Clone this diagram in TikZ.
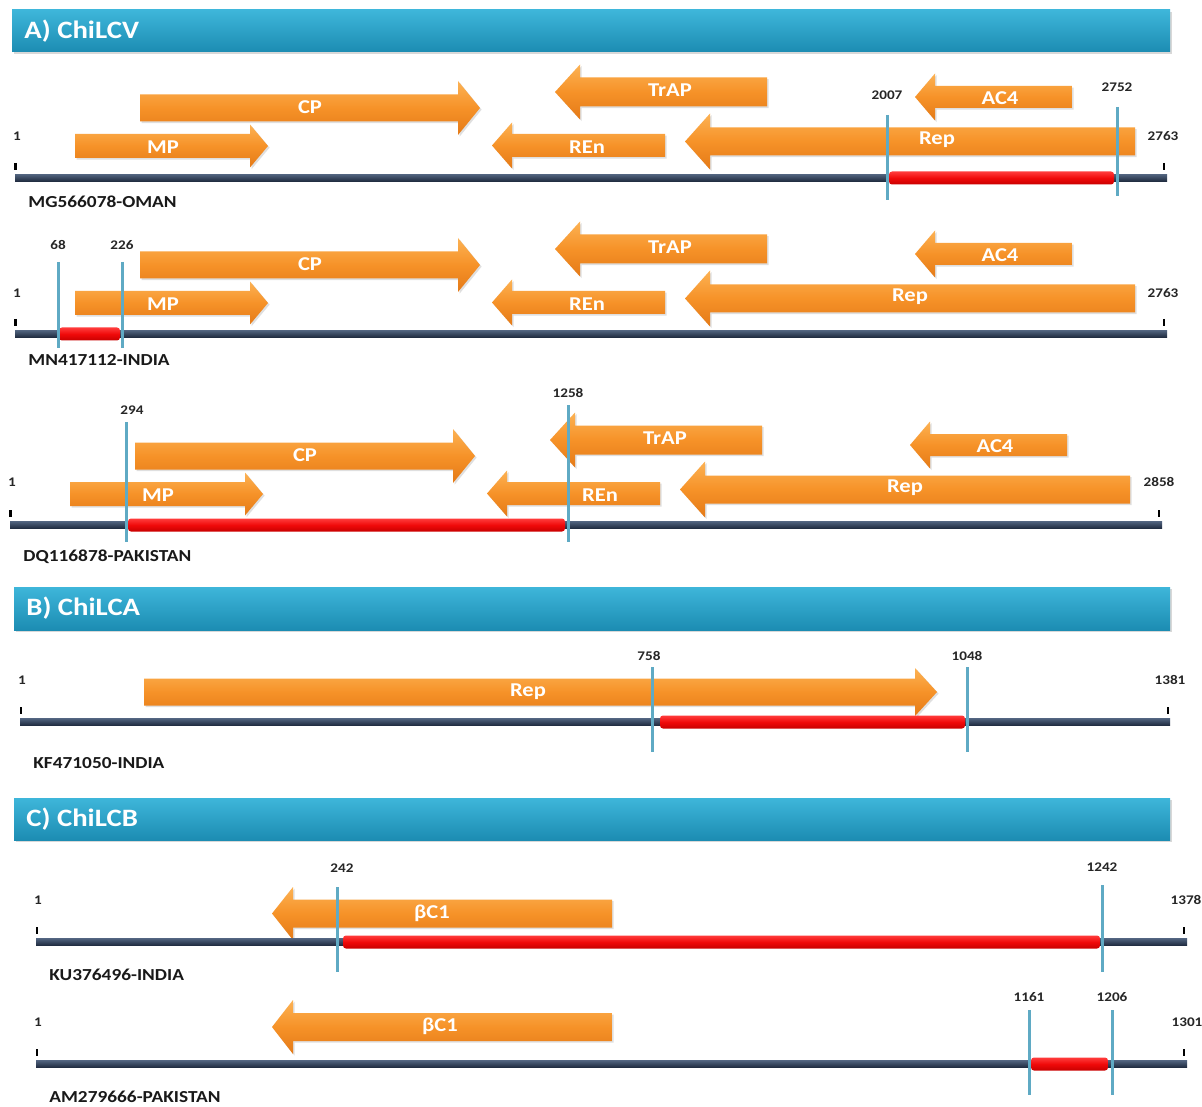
\documentclass[tikz,border=0pt]{standalone}
\usepackage{fontspec}
\setmainfont{Carlito}[FakeStretch=1.15]
\usetikzlibrary{shadows}
\definecolor{geneTop}{RGB}{252,178,84}
\definecolor{geneMid}{RGB}{246,146,40}
\definecolor{geneBot}{RGB}{228,122,24}
\definecolor{hdrTop}{RGB}{62,182,218}
\definecolor{hdrBot}{RGB}{28,140,178}
\definecolor{barTop}{RGB}{80,98,125}
\definecolor{barBot}{RGB}{30,42,62}
\definecolor{redTop}{RGB}{255,60,60}
\definecolor{redMid}{RGB}{240,10,10}
\definecolor{redBot}{RGB}{200,0,0}
\definecolor{markBlue}{RGB}{95,170,196}
\tikzset{
  gene/.style={top color=geneTop, bottom color=geneBot, middle color=geneMid,
    drop shadow={opacity=0.25, shadow xshift=0.8pt, shadow yshift=-0.8pt}},
  glabel/.style={text=white, font=\bfseries\fontsize{9.8}{11}\selectfont, inner sep=0pt},
  num/.style={text=black!85, font=\bfseries\fontsize{6.6}{8}\selectfont, inner sep=0pt},
  acc/.style={text=black!90, font=\bfseries\fontsize{8.4}{10}\selectfont, anchor=west, inner sep=0pt},
  marker/.style={draw=markBlue, line width=1.5pt},
  hdr/.style={top color=hdrTop, bottom color=hdrBot,
    drop shadow={opacity=0.3, shadow xshift=1pt, shadow yshift=-1pt}},
  htext/.style={text=white, font=\bfseries\fontsize{12.5}{14}\selectfont, anchor=west, inner sep=0pt},
  tickmark/.style={draw=black, line width=1.1pt},
  genomebar/.style={top color=barTop, bottom color=barBot},
  redseg/.style={top color=redTop, bottom color=redBot, middle color=redMid, rounded corners=1.5pt},
}
% #1 tail x, #2 head-base x, #3 tip x, #4 centre y, #5 body half-height, #6 head half-height
\newcommand\genearrow[6]{%
  \path[gene] (#1,#4-#5) -- (#2,#4-#5) -- (#2,#4-#6) -- (#3,#4) -- (#2,#4+#6)
    -- (#2,#4+#5) -- (#1,#4+#5) -- cycle;}
% #1 x start, #2 x end, #3 centre y
\newcommand\genomebar[3]{%
  \path[genomebar] (#1,#3-3.5) rectangle (#2,#3+3.5);}
\newcommand\redbar[3]{%
  \path[redseg] (#1,#3-6.5) rectangle (#2,#3+6.5);}
\begin{document}
\begin{tikzpicture}[x=0.5pt,y=-0.5pt]
\useasboundingbox (0,0) rectangle (1202,1106);
\fill[white] (0,0) rectangle (1202,1106);

% ---------------- Headers
\path[hdr] (12,10) rectangle (1170,52);
\node[htext] (hA) at (24,31) {A) ChiLCV};
\path[hdr] (14,587) rectangle (1170,630);
\node[htext] (hB) at (26,608) {B) ChiLCA};
\path[hdr] (14,798) rectangle (1170,840);
\node[htext] (hC) at (26,819) {C) ChiLCB};

% ---------------- A1
\begin{scope}
\genearrow{140}{458}{480}{108}{13.5}{27}
\genearrow{75}{250}{268}{146}{12}{21.5}
\genearrow{767}{580}{555}{92}{14.5}{27.5}
\genearrow{665}{512}{492}{145.5}{11.5}{23}
\genearrow{1135}{710}{685}{141.5}{14}{28}
\genearrow{1072}{935}{915}{97}{11}{23.5}
\node[glabel] (a1cp) at (310,107) {CP};
\node[glabel] (a1mp) at (163,147) {MP};
\node[glabel] (a1trap) at (670,90) {TrAP};
\node[glabel] (a1ren) at (587,147) {REn};
\node[glabel] (a1rep) at (937,140) {Rep};
\node[glabel] (a1ac4) at (1000,98) {AC4};
\genomebar{15}{1167}{178}
\redbar{889}{1114}{178}
\draw[tickmark] (15.5,163) -- (15.5,170);
\draw[tickmark] (1164,163) -- (1164,170);
\draw[marker] (887,115) -- (887,200);
\draw[marker] (1117,107) -- (1117,196);
\node[num] (a1s) at (17,136) {1};
\node[num] (a1e) at (1163,136) {2763};
\node[num] (a1m1) at (887,95) {2007};
\node[num] (a1m2) at (1117,87) {2752};
\node[acc] (a1id) at (28,202) {MG566078-OMAN};
\end{scope}

% ---------------- A2
\begin{scope}[shift={(0,157)}]
\genearrow{140}{458}{480}{108}{13.5}{27}
\genearrow{75}{250}{268}{146}{12}{21.5}
\genearrow{767}{580}{555}{92}{14.5}{27.5}
\genearrow{665}{512}{492}{145.5}{11.5}{23}
\genearrow{1135}{710}{685}{141.5}{14}{28}
\genearrow{1072}{935}{915}{97}{11}{23.5}
\node[glabel] (a2cp) at (310,107) {CP};
\node[glabel] (a2mp) at (163,147) {MP};
\node[glabel] (a2trap) at (670,90) {TrAP};
\node[glabel] (a2ren) at (587,147) {REn};
\node[glabel] (a2rep) at (910,140) {Rep};
\node[glabel] (a2ac4) at (1000,98) {AC4};
\genomebar{15}{1167}{177}
\redbar{59}{120}{177}
\draw[tickmark] (15.5,162) -- (15.5,169);
\draw[tickmark] (1164,162) -- (1164,169);
\draw[marker] (58,105) -- (58,191);
\draw[marker] (122,105) -- (122,191);
\node[num] (a2s) at (17,136) {1};
\node[num] (a2e) at (1163,136) {2763};
\node[num] (a2m1) at (58,88) {68};
\node[num] (a2m2) at (122,88) {226};
\node[acc] (a2id) at (28,203) {MN417112-INDIA};
\end{scope}

% ---------------- A3
\begin{scope}[shift={(-5,348)}]
\genearrow{140}{458}{480}{108}{13.5}{27}
\genearrow{75}{250}{268}{146}{12}{21.5}
\genearrow{767}{580}{555}{92}{14.5}{27.5}
\genearrow{665}{512}{492}{145.5}{11.5}{23}
\genearrow{1135}{710}{685}{141.5}{14}{28}
\genearrow{1072}{935}{915}{97}{11}{23.5}
\node[glabel] (a3cp) at (310,107) {CP};
\node[glabel] (a3mp) at (163,147) {MP};
\node[glabel] (a3trap) at (670,90) {TrAP};
\node[glabel] (a3ren) at (605,147) {REn};
\node[glabel] (a3rep) at (910,140) {Rep};
\node[glabel] (a3ac4) at (1000,98) {AC4};
\genomebar{15}{1167}{177}
\redbar{133}{570}{177}
\draw[tickmark] (15.5,162) -- (15.5,169);
\draw[tickmark] (1164,162) -- (1164,169);
\draw[marker] (131,74) -- (131,194);
\draw[marker] (573,57) -- (573,194);
\node[num] (a3s) at (17,134) {1};
\node[num] (a3e) at (1164,134) {2858};
\node[num] (a3m1) at (137,62) {294};
\node[num] (a3m2) at (573,45) {1258};
\node[acc] (a3id) at (28,209) {DQ116878-PAKISTAN};
\end{scope}

% ---------------- B
\genearrow{144}{915}{937}{692}{13.5}{24}
\node[glabel] (brep) at (528,692) {Rep};
\genomebar{20}{1170}{722}
\redbar{660}{965}{722}
\draw[tickmark] (21,707) -- (21,714);
\draw[tickmark] (1168,707) -- (1168,714);
\draw[marker] (652,667) -- (652,752);
\draw[marker] (967,667) -- (967,752);
\node[num] (bs) at (22,680) {1};
\node[num] (be) at (1170,680) {1381};
\node[num] (bm1) at (649,656) {758};
\node[num] (bm2) at (967,656) {1048};
\node[acc] (bid) at (33,763) {KF471050-INDIA};

% ---------------- C1
\genearrow{612}{293}{272}{913.5}{14}{26.5}
\node[glabel] (c1b) at (432,913) {βC1};
\genomebar{36}{1187}{942}
\redbar{343}{1100}{942}
\draw[tickmark] (37,927) -- (37,934);
\draw[tickmark] (1184,927) -- (1184,934);
\draw[marker] (337,887) -- (337,972);
\draw[marker] (1102,885) -- (1102,972);
\node[num] (c1s) at (38,900) {1};
\node[num] (c1e) at (1186,900) {1378};
\node[num] (c1m1) at (342,868) {242};
\node[num] (c1m2) at (1102,867) {1242};
\node[acc] (c1id) at (49,975) {KU376496-INDIA};

% ---------------- C2
\genearrow{612}{293}{272}{1027}{14}{27}
\node[glabel] (c2b) at (440,1026) {βC1};
\genomebar{36}{1187}{1064}
\redbar{1031}{1108}{1064}
\draw[tickmark] (37,1049) -- (37,1056);
\draw[tickmark] (1184,1049) -- (1184,1056);
\draw[marker] (1029,1010) -- (1029,1095);
\draw[marker] (1112,1010) -- (1112,1095);
\node[num] (c2s) at (38,1022) {1};
\node[num] (c2e) at (1187,1022) {1301};
\node[num] (c2m1) at (1029,997) {1161};
\node[num] (c2m2) at (1112,997) {1206};
\node[acc] (c2id) at (49,1097) {AM279666-PAKISTAN};
\end{tikzpicture}
\end{document}
